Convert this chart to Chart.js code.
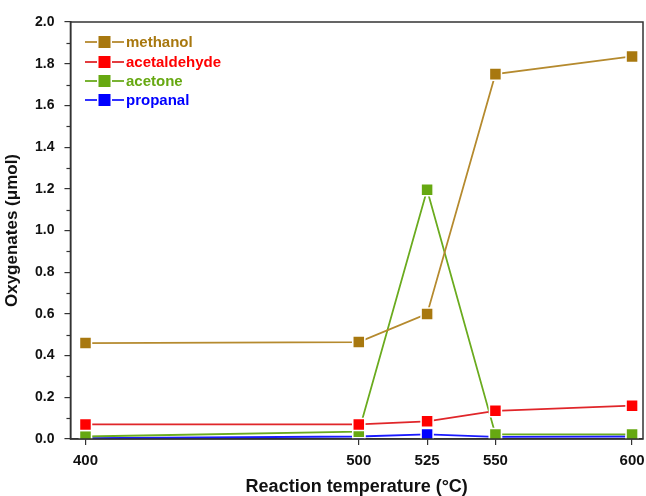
<!DOCTYPE html>
<html><head><meta charset="utf-8">
<script src="https://cdn.jsdelivr.net/npm/chart.js@4.4.1/dist/chart.umd.min.js"></script>
<style>html,body{margin:0;padding:0;background:#fff;}#wrap{width:646px;height:496px;}</style>
</head><body><div id="wrap"><canvas id="c" width="646" height="496"></canvas></div>
<script>
const temperatures = [400, 500, 525, 550, 600];
const methanol = [0.46, 0.465, 0.60, 1.75, 1.835];
const acetaldehyde = [0.07, 0.07, 0.085, 0.135, 0.16];
const acetone = [0.012, 0.035, 1.195, 0.022, 0.022];
const propanal = [0.004, 0.012, 0.022, 0.01, 0.012];
const xTickValues = [400, 500, 525, 550, 600];
const seriesNames = ['methanol', 'acetaldehyde', 'acetone', 'propanal'];
const seriesColors = ['#A8780F', '#FF0000', '#66A811', '#0000FF'];
const lineColors = ['#B58A2E', '#E0262A', '#6AAB1E', '#1A1AFF'];
const seriesData = [methanol, acetaldehyde, acetone, propanal];

const FONT = 'Liberation Sans, Arial, sans-serif';

const datasets = seriesNames.map((n, i) => ({
  label: n,
  data: temperatures.map((t, j) => ({x: t, y: seriesData[i][j]})),
  borderColor: lineColors[i],
  backgroundColor: seriesColors[i],
  pointBackgroundColor: seriesColors[i],
  pointBorderColor: '#ffffff',
  pointBorderWidth: 1.5,
  pointRadius: 8.5,
  pointStyle: 'rect',
  borderWidth: 1.8,
  tension: 0,
  order: i
}));

const framePlugin = {
  id: 'frame',
  afterDraw(chart) {
    const {ctx, chartArea: a, scales} = chart;
    ctx.save();
    ctx.strokeStyle = '#333';
    ctx.lineWidth = 1.5;
    ctx.strokeRect(a.left, a.top, a.right - a.left, a.bottom - a.top);
    // minor y ticks
    const y = scales.y;
    ctx.lineWidth = 1.2;
    for (let v = 0.1; v < 2.0; v += 0.2) {
      const py = Math.round(y.getPixelForValue(v)) + 0.5;
      ctx.beginPath(); ctx.moveTo(a.left - 4, py); ctx.lineTo(a.left, py); ctx.stroke();
    }
    // legend
    const x0 = 85, rows = [42, 62, 81, 100];
    chart.data.datasets.forEach((ds, i) => {
      const ry = rows[i];
      ctx.strokeStyle = ds.borderColor; ctx.lineWidth = 1.8;
      ctx.beginPath(); ctx.moveTo(x0, ry); ctx.lineTo(x0 + 12, ry); ctx.stroke();
      ctx.beginPath(); ctx.moveTo(x0 + 27, ry); ctx.lineTo(x0 + 39, ry); ctx.stroke();
      ctx.fillStyle = ds.pointBackgroundColor;
      ctx.fillRect(x0 + 13.5, ry - 6, 12, 12);
      ctx.font = 'bold 15px ' + FONT;
      ctx.textBaseline = 'middle';
      ctx.fillStyle = ds.pointBackgroundColor;
      ctx.fillText(ds.label, x0 + 41, ry + 1);
    });
    ctx.restore();
  }
};

new Chart(document.getElementById('c'), {
  type: 'line',
  data: {datasets},
  options: {
    responsive: false,
    animation: false,
    layout: {autoPadding: false, padding: {top: 22, right: 3, left: 4, bottom: 0}},
    plugins: {legend: {display: false}, tooltip: {enabled: false}},
    scales: {
      x: {
        type: 'linear', min: 394.5, max: 604,
        afterBuildTicks: s => { s.ticks = xTickValues.map(v => ({value: v})); },
        afterFit: s => { s.paddingRight = 0; s.paddingLeft = 0; },
        grid: {drawOnChartArea: false, tickLength: 6, color: '#333', lineWidth: 1.2},
        border: {color: '#333', width: 1.5},
        ticks: {font: {family: FONT, size: 15, weight: 'bold', lineHeight: 1}, color: '#111', padding: 8, maxRotation: 0, autoSkip: false},
        title: {display: true, text: 'Reaction temperature (°C)', font: {family: FONT, size: 18, weight: 'bold', lineHeight: 1}, color: '#111', padding: {top: 2, bottom: 0}}
      },
      y: {
        min: 0, max: 2.0,
        ticks: {stepSize: 0.2, font: {family: FONT, size: 14, weight: 'bold'}, color: '#111', padding: 10, callback: v => v.toFixed(1)},
        grid: {drawOnChartArea: false, tickLength: 6, color: '#333', lineWidth: 1.2},
        border: {color: '#333', width: 1.5},
        title: {display: true, text: 'Oxygenates (μmol)', font: {family: FONT, size: 17, weight: 'bold', lineHeight: 1}, color: '#111', padding: {top: 0, bottom: 4}}
      }
    }
  },
  plugins: [framePlugin]
});
</script></body></html>
